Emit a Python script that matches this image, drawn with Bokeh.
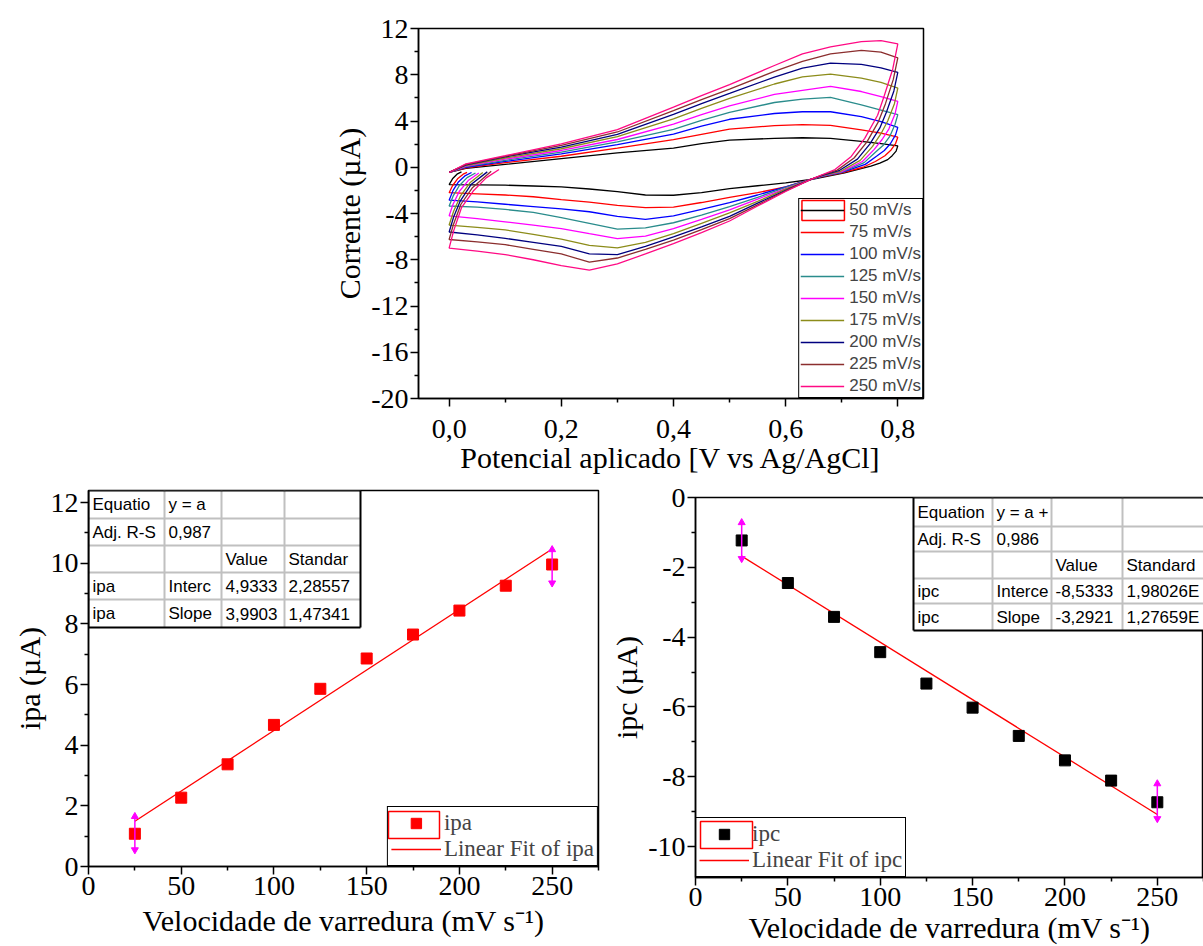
from bokeh.plotting import figure
from bokeh.models import (Range1d, FixedTicker, CustomJSTickFormatter, Legend, LegendItem,
                          Spacer)
from bokeh.layouts import row, column
from bokeh.embed import file_html
from bokeh.resources import INLINE
from bokeh.core.properties import value

SERIF = "Liberation Serif"
SANS = "Liberation Sans"

# ---------------- cyclic voltammograms ----------------
cv_labels = ["50 mV/s", "75 mV/s", "100 mV/s", "125 mV/s", "150 mV/s",
             "175 mV/s", "200 mV/s", "225 mV/s", "250 mV/s"]
cv_colors = ["#000000", "#FF0000", "#0000FF", "#2A8C8C", "#FF00FF",
             "#8C8C1A", "#00007F", "#8B2E2E", "#FF0A84"]

# forward (anodic) branch, shared potentials
cv_fwd_x = [0.0, 0.03, 0.1, 0.2, 0.3, 0.4, 0.45, 0.5, 0.58, 0.63, 0.68, 0.735, 0.77, 0.8]
cv_fwd_y = [
    [-0.45, -0.1, 0.25, 0.75, 1.25, 1.65, 2.05, 2.35, 2.5, 2.55, 2.5, 2.23, 2.05, 1.85],
    [-0.45, -0.05, 0.4, 0.95, 1.65, 2.38, 2.85, 3.3, 3.6, 3.68, 3.62, 3.23, 2.95, 2.6],
    [-0.45, 0.0, 0.5, 1.15, 1.95, 2.86, 3.55, 4.15, 4.65, 4.8, 4.8, 4.38, 3.95, 3.45],
    [-0.45, 0.05, 0.6, 1.3, 2.2, 3.28, 4.05, 4.75, 5.6, 5.9, 6.05, 5.4, 4.95, 4.55],
    [-0.45, 0.1, 0.7, 1.45, 2.4, 3.72, 4.55, 5.3, 6.3, 6.65, 7.0, 6.55, 6.1, 5.7],
    [-0.45, 0.15, 0.8, 1.6, 2.65, 4.18, 5.1, 5.95, 7.2, 7.81, 8.05, 7.7, 7.35, 6.85],
    [-0.45, 0.2, 0.9, 1.75, 2.85, 4.58, 5.5, 6.38, 7.8, 8.58, 9.0, 8.9, 8.6, 8.2],
    [-0.45, 0.25, 0.95, 1.9, 3.05, 4.89, 5.85, 6.75, 8.3, 9.16, 9.8, 10.1, 9.95, 9.45],
    [-0.45, 0.3, 1.0, 2.03, 3.25, 5.2, 6.2, 7.15, 8.8, 9.8, 10.42, 10.87, 10.95, 10.67],
]
# reverse branch from the switching potential down to the crossing point
cv_rev_x = [
    [0.8, 0.797, 0.79, 0.782, 0.768, 0.752, 0.705, 0.665],
    [0.8, 0.796, 0.788, 0.777, 0.76, 0.738, 0.70, 0.665],
    [0.8, 0.796, 0.787, 0.776, 0.762, 0.742, 0.70, 0.665],
    [0.8, 0.795, 0.786, 0.774, 0.76, 0.74, 0.70, 0.665],
    [0.8, 0.795, 0.784, 0.772, 0.758, 0.737, 0.70, 0.665],
    [0.8, 0.794, 0.782, 0.77, 0.755, 0.733, 0.698, 0.665],
    [0.8, 0.793, 0.78, 0.768, 0.75, 0.728, 0.695, 0.665],
    [0.8, 0.792, 0.778, 0.765, 0.745, 0.722, 0.692, 0.665],
    [0.8, 0.791, 0.776, 0.764, 0.741, 0.717, 0.688, 0.665],
]
cv_rev_y = [
    [1.85, 1.4, 1.0, 0.66, 0.35, 0.09, -0.49, -0.88],
    [2.6, 2.05, 1.5, 1.0, 0.5, 0.0, -0.48, -0.82],
    [3.45, 2.8, 2.05, 1.45, 0.95, 0.25, -0.45, -0.78],
    [4.55, 3.7, 2.7, 1.9, 1.3, 0.4, -0.42, -0.76],
    [5.7, 4.6, 3.3, 2.4, 1.55, 0.5, -0.38, -0.74],
    [6.85, 5.5, 4.0, 2.9, 1.8, 0.6, -0.35, -0.72],
    [8.2, 6.6, 4.8, 3.4, 2.0, 0.7, -0.3, -0.7],
    [9.45, 7.6, 5.5, 3.9, 2.2, 0.8, -0.25, -0.67],
    [10.67, 8.5, 6.2, 4.5, 2.5, 0.94, -0.2, -0.65],
]
# cathodic branch, shared potentials
cv_low_x = [0.645, 0.6, 0.55, 0.5, 0.45, 0.4, 0.35, 0.3, 0.25, 0.2, 0.15, 0.1, 0.05, 0.0]
cv_low_y = [
    [-1.06, -1.35, -1.6, -1.85, -2.2, -2.42, -2.4, -2.1, -1.88, -1.7, -1.62, -1.55, -1.52, -1.5],
    [-1.03, -1.7, -2.2, -2.6, -3.05, -3.45, -3.5, -3.3, -3.02, -2.8, -2.55, -2.4, -2.3, -2.2],
    [-1.05, -1.7, -2.4, -3.05, -3.65, -4.2, -4.5, -4.25, -3.85, -3.6, -3.4, -3.2, -3.0, -2.85],
    [-1.05, -1.75, -2.6, -3.4, -4.15, -4.8, -5.25, -5.35, -4.85, -4.35, -3.9, -3.65, -3.45, -3.35],
    [-1.05, -1.85, -2.75, -3.68, -4.5, -5.3, -5.95, -6.18, -5.75, -5.3, -5.0, -4.72, -4.45, -4.2],
    [-1.05, -1.9, -2.95, -3.95, -4.85, -5.75, -6.5, -6.98, -6.75, -6.21, -5.8, -5.42, -5.2, -5.0],
    [-1.05, -2.0, -3.1, -4.25, -5.15, -6.02, -6.85, -7.55, -7.5, -6.85, -6.5, -6.15, -5.85, -5.6],
    [-1.05, -2.05, -3.25, -4.45, -5.4, -6.3, -7.1, -7.85, -8.2, -7.5, -7.1, -6.7, -6.45, -6.25],
    [-1.05, -2.1, -3.35, -4.65, -5.65, -6.6, -7.5, -8.35, -8.9, -8.5, -8.0, -7.55, -7.25, -7.0],
]
# final partial anodic rise after the return to 0 V
cv_rise_x = [
    [0.0, 0.006, 0.014, 0.022],
    [0.0, 0.006, 0.015, 0.025, 0.032],
    [0.0, 0.007, 0.016, 0.028, 0.04],
    [0.0, 0.007, 0.018, 0.032, 0.047],
    [0.0, 0.007, 0.018, 0.034, 0.053],
    [0.0, 0.008, 0.02, 0.037, 0.06],
    [0.0, 0.008, 0.02, 0.039, 0.068],
    [0.0, 0.008, 0.021, 0.041, 0.075],
    [0.0, 0.008, 0.022, 0.043, 0.066, 0.089],
]
cv_rise_y = [
    [-1.5, -1.0, -0.6, -0.4],
    [-2.2, -1.6, -1.0, -0.6, -0.45],
    [-2.85, -2.0, -1.3, -0.75, -0.45],
    [-3.35, -2.5, -1.6, -0.9, -0.5],
    [-4.2, -3.2, -2.1, -1.15, -0.5],
    [-5.0, -3.8, -2.5, -1.35, -0.45],
    [-5.6, -4.3, -2.9, -1.5, -0.4],
    [-6.25, -4.9, -3.2, -1.8, -0.35],
    [-7.0, -5.5, -3.5, -2.06, -0.92, -0.2],
]

# ---------------- peak currents vs scan rate ----------------
scan_rate = [25, 50, 75, 100, 125, 150, 175, 200, 225, 250]
ipa = [1.08, 2.27, 3.37, 4.67, 5.86, 6.86, 7.65, 8.44, 9.26, 9.96]
ipc = [-1.23, -2.45, -3.42, -4.43, -5.33, -6.02, -6.83, -7.53, -8.11, -8.73]
fit_x = [25, 250]
ipa_fit = [1.49, 10.47]
ipc_fit = [-1.68, -9.08]
handle_x = [25, 250]
ipa_handle_lo = [0.55, 9.35]
ipa_handle_hi = [1.65, 10.45]
ipc_handle_lo = [-1.75, -9.2]
ipc_handle_hi = [-0.72, -8.2]

ipa_table = [["Equatio", "y = a", "", ""],
             ["Adj. R-S", "0,987", "", ""],
             ["", "", "Value", "Standar"],
             ["ipa", "Interc", "4,9333", "2,28557"],
             ["ipa", "Slope", "3,9903", "1,47341"]]
ipc_table = [["Equation", "y = a +", "", ""],
             ["Adj. R-S", "  0,986", "", ""],
             ["", "", "Value", "Standard"],
             ["ipc", "Interce", "-8,5333", "1,98026E"],
             ["ipc", "Slope", "-3,2921", "1,27659E"]]

X_TITLE_BOTTOM = "Velocidade de varredura (mV s⁻¹)"


# ---------------- helpers ----------------
class Geo:
    def __init__(self, left, right, top, bottom, xr, yr):
        self.left, self.right, self.top, self.bottom = left, right, top, bottom
        self.xr, self.yr = xr, yr

    def x(self, px):
        return self.xr[0] + (px - self.left) / (self.right - self.left) * (self.xr[1] - self.xr[0])

    def y(self, py):
        return self.yr[1] - (py - self.top) / (self.bottom - self.top) * (self.yr[1] - self.yr[0])


def make_fig(width, height, g, page_left, page_top, xticks, xminor, yticks, yminor,
             xlabel, ylabel, xfmt, yfmt):
    p = figure(width=width, height=height,
               x_range=Range1d(*g.xr), y_range=Range1d(*g.yr),
               output_backend="svg", toolbar_location=None,
               min_border_left=g.left - page_left,
               min_border_right=page_left + width - g.right,
               min_border_top=g.top - page_top,
               min_border_bottom=page_top + height - g.bottom)
    p.outline_line_color = "black"
    p.outline_line_width = 1.5
    p.outline_line_alpha = 1
    p.grid.visible = False
    p.background_fill_color = "white"
    p.border_fill_color = "white"
    p.xaxis.ticker = FixedTicker(ticks=xticks, minor_ticks=xminor)
    p.yaxis.ticker = FixedTicker(ticks=yticks, minor_ticks=yminor)
    p.xaxis.formatter = CustomJSTickFormatter(code=xfmt)
    p.yaxis.formatter = CustomJSTickFormatter(code=yfmt)
    p.xaxis.axis_label = xlabel
    p.yaxis.axis_label = ylabel
    for ax in (p.xaxis[0], p.yaxis[0]):
        ax.axis_line_width = 1.5
        ax.axis_line_color = "black"
        ax.major_tick_line_width = 1.5
        ax.minor_tick_line_width = 1.5
        ax.major_tick_line_color = "black"
        ax.minor_tick_line_color = "black"
        ax.major_tick_out = 8
        ax.major_tick_in = 0
        ax.minor_tick_out = 4
        ax.minor_tick_in = 0
        ax.major_label_text_font = SERIF
        ax.major_label_text_font_size = "28px"
        ax.major_label_text_color = "black"
        ax.major_label_standoff = 2
        ax.axis_label_text_font = SERIF
        ax.axis_label_text_font_size = "30px"
        ax.axis_label_text_font_style = "normal"
        ax.axis_label_text_color = "black"
        ax.axis_label_standoff = 2
    return p


def draw_table(p, g, cells, col_px, row_px):
    xs = [g.x(c) for c in col_px]
    ys = [g.y(r) for r in row_px]
    p.quad(left=[xs[0]], right=[xs[-1]], top=[ys[0]], bottom=[ys[-1]],
           fill_color="white", line_color=None)
    gx, gy = [], []
    for x in xs[1:-1]:
        gx.append([x, x]); gy.append([ys[0], ys[-1]])
    for y in ys[1:-1]:
        gx.append([xs[0], xs[-1]]); gy.append([y, y])
    p.multi_line(gx, gy, line_color="#C0C0C0", line_width=2)
    p.multi_line([[xs[0], xs[-1]], [xs[-1], xs[-1]], [xs[0], xs[0]], [xs[0], xs[-1]]],
                 [[ys[0], ys[0]], [ys[0], ys[-1]], [ys[0], ys[-1]], [ys[-1], ys[-1]]],
                 line_color="black", line_width=2)
    tx, ty, tt = [], [], []
    for i, rc in enumerate(cells):
        for j, t in enumerate(rc):
            if t:
                tx.append(g.x(col_px[j] + 4))
                ty.append(g.y((row_px[i] + row_px[i + 1]) / 2))
                tt.append(t)
    p.text(tx, ty, text=tt, text_font=value(SANS), text_font_size=value("17px"),
           text_baseline="middle", text_align="left", text_color="black")


def red_box(p, g, l, r, t, b):
    # selection highlight around the first legend sample (legend is transparent)
    p.quad(left=[g.x(l)], right=[g.x(r)], top=[g.y(t)], bottom=[g.y(b)],
           fill_alpha=0, line_color="red", line_width=1.5)


def make_legend(items, loc, font, size, gw, gh, spacing, padding, standoff):
    return Legend(items=items, location=loc, margin=0, padding=padding, spacing=spacing,
                  glyph_width=gw, glyph_height=gh, label_height=gh, label_standoff=standoff,
                  label_text_font=font, label_text_font_size=size,
                  border_line_color="black", border_line_width=1.5, border_line_alpha=1,
                  background_fill_alpha=0)


INT_FMT = "return tick.toFixed(0);"

# ---------------- top: CV ----------------
g_top = Geo(412, 923, 28, 398, ((412 - 443) / 567.5, (923 - 443) / 567.5), (-20, 12))
p_top = make_fig(600, 478, g_top, 330, 0,
                 [0.0, 0.2, 0.4, 0.6, 0.8], [0.1, 0.3, 0.5, 0.7],
                 list(range(-20, 13, 4)), list(range(-18, 12, 4)),
                 "Potencial aplicado [V vs Ag/AgCl]", "Corrente (µA)",
                 "return tick.toFixed(1).replace('.', ',');", INT_FMT)
p_top.xaxis[0].major_label_standoff = 13
p_top.xaxis[0].axis_label_standoff = 0

red_box(p_top, g_top, 800, 843, 200, 220)
items = []
for i in range(len(cv_labels)):
    xs = cv_fwd_x + cv_rev_x[i] + cv_low_x + cv_rise_x[i]
    ys = cv_fwd_y[i] + cv_rev_y[i] + cv_low_y[i] + cv_rise_y[i]
    r = p_top.line(xs, ys, line_color=cv_colors[i], line_width=1.3)
    items.append(LegendItem(label=cv_labels[i], renderers=[r]))
p_top.add_layout(make_legend(items, "bottom_right", SANS, "17px", 44, 20, 2, 1, 5))

# ---------------- bottom left: ipa ----------------
g_bl = Geo(88, 598, 490, 866, (0, 275), (0, 12.4))
p_bl = make_fig(600, 468, g_bl, 0, 478,
                [0, 50, 100, 150, 200, 250], [25, 75, 125, 175, 225, 275],
                list(range(0, 13, 2)), list(range(1, 13, 2)),
                X_TITLE_BOTTOM, "ipa (µA)", INT_FMT, INT_FMT)
p_bl.xaxis[0].axis_label_standoff = 6
draw_table(p_bl, g_bl, ipa_table, [88, 164, 221, 284, 360], [490, 518, 545, 572, 599, 627])
red_box(p_bl, g_bl, 388, 439, 811, 838)
r_fit_a = p_bl.line(fit_x, ipa_fit, line_color="#FF0000", line_width=1.3)
r_pts_a = p_bl.scatter(scan_rate, ipa, marker="square", size=11, fill_color="#FF0000",
                       line_color="#FF0000")
p_bl.segment(x0=handle_x, y0=ipa_handle_lo, x1=handle_x, y1=ipa_handle_hi,
             line_color="#FF00FF", line_width=1.5)
p_bl.scatter(handle_x, ipa_handle_hi, marker="triangle", size=7, color="#FF00FF")
p_bl.scatter(handle_x, ipa_handle_lo, marker="inverted_triangle", size=7, color="#FF00FF")
p_bl.add_layout(make_legend([LegendItem(label="ipa", renderers=[r_pts_a]),
                             LegendItem(label="Linear Fit of ipa", renderers=[r_fit_a])],
                            "bottom_right", SERIF, "23px", 50, 26, 0, 3, 3))

# ---------------- bottom right: ipc ----------------
g_br = Geo(695, 1203, 497, 877, (0, 275), (-11 + 4 / 34.9, 0))
p_br = make_fig(603, 468, g_br, 600, 478,
                [0, 50, 100, 150, 200, 250], [25, 75, 125, 175, 225, 275],
                list(range(-10, 1, 2)), list(range(-9, 0, 2)),
                X_TITLE_BOTTOM, "ipc (µA)", INT_FMT, INT_FMT)
draw_table(p_br, g_br, ipc_table, [913, 992, 1051, 1122, 1215], [497, 526, 551, 578, 603, 630])
red_box(p_br, g_br, 700, 752, 821, 848)
r_fit_c = p_br.line(fit_x, ipc_fit, line_color="#FF0000", line_width=1.3)
r_pts_c = p_br.scatter(scan_rate, ipc, marker="square", size=11, fill_color="#000000",
                       line_color="#000000")
p_br.segment(x0=handle_x, y0=ipc_handle_lo, x1=handle_x, y1=ipc_handle_hi,
             line_color="#FF00FF", line_width=1.5)
p_br.scatter(handle_x, ipc_handle_hi, marker="triangle", size=7, color="#FF00FF")
p_br.scatter(handle_x, ipc_handle_lo, marker="inverted_triangle", size=7, color="#FF00FF")
p_br.add_layout(make_legend([LegendItem(label="ipc", renderers=[r_pts_c]),
                             LegendItem(label="Linear Fit of ipc", renderers=[r_fit_c])],
                            "bottom_left", SERIF, "23px", 50, 26, 0, 3, 3))

layout = column(row(Spacer(width=330, height=478), p_top),
                row(column(p_bl), column(p_br)))
open("out.html", "w").write(file_html(layout, INLINE))
